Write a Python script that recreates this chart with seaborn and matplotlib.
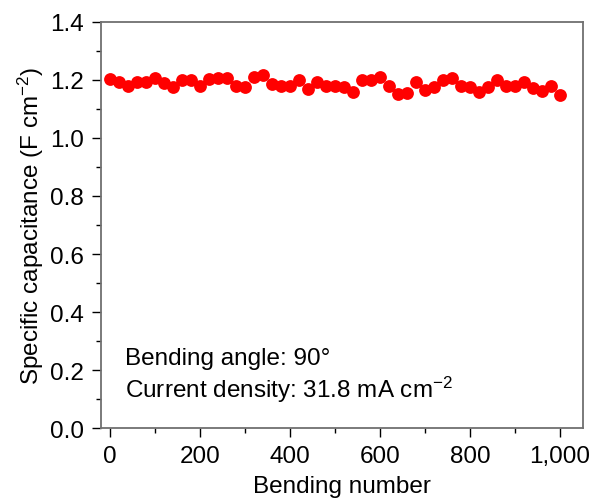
import matplotlib
matplotlib.use("Agg")
import matplotlib.pyplot as plt
import matplotlib.ticker as mticker
import seaborn as sns
import pandas as pd

bending_number = list(range(0, 1001, 20))
capacitance = [1.203, 1.194, 1.180, 1.194, 1.192, 1.206, 1.189, 1.177, 1.201, 1.201,
               1.178, 1.203, 1.206, 1.207, 1.180, 1.175, 1.211, 1.218, 1.186, 1.178,
               1.178, 1.200, 1.169, 1.194, 1.180, 1.178, 1.175, 1.157, 1.200, 1.201,
               1.209, 1.180, 1.152, 1.154, 1.192, 1.166, 1.177, 1.201, 1.207, 1.178,
               1.175, 1.157, 1.177, 1.201, 1.180, 1.180, 1.194, 1.172, 1.163, 1.180,
               1.149]
annotations = ["Bending angle: 90°", "Current density: 31.8 mA cm$^{-2}$"]

df = pd.DataFrame({"Bending number": bending_number, "Capacitance": capacitance})

sns.set_style("white", rc={"text.color": "black", "axes.labelcolor": "black",
                           "xtick.color": "black", "ytick.color": "black"})
plt.rcParams["font.family"] = ["Liberation Sans", "DejaVu Sans"]
plt.rcParams["mathtext.fontset"] = "custom"
plt.rcParams["mathtext.rm"] = "Liberation Sans"
plt.rcParams["mathtext.it"] = "Liberation Sans:italic"
plt.rcParams["mathtext.bf"] = "Liberation Sans:bold"

FS = 17.5

fig = plt.figure(figsize=(5.95, 5.02), dpi=100)
ax = fig.add_axes([0.1697, 0.1454, 0.8101, 0.8088])

sns.scatterplot(data=df, x="Bending number", y="Capacitance", ax=ax,
                color="#ff0000", s=85, linewidth=0, zorder=3)

ax.set_xlim(-20, 1051)
ax.set_ylim(0, 1.4)
ax.xaxis.set_major_locator(mticker.MultipleLocator(200))
ax.xaxis.set_minor_locator(mticker.MultipleLocator(100))
ax.yaxis.set_major_locator(mticker.MultipleLocator(0.2))
ax.yaxis.set_minor_locator(mticker.MultipleLocator(0.1))
ax.xaxis.set_major_formatter(mticker.FuncFormatter(lambda v, p: f"{int(round(v)):,}"))
ax.yaxis.set_major_formatter(mticker.FormatStrFormatter("%.1f"))

ax.tick_params(axis="both", which="major", direction="out", length=6.5, width=1.0,
               color="black", labelcolor="black", labelsize=FS,
               bottom=True, left=True, top=False, right=False)
ax.tick_params(axis="x", which="major", pad=5.5)
ax.tick_params(axis="y", which="major", pad=6.0)
ax.tick_params(axis="both", which="minor", direction="out", length=3.6, width=1.0,
               color="black", bottom=True, left=True, top=False, right=False)

for sp in ax.spines.values():
    sp.set_visible(True)
    sp.set_color("#707070")
    sp.set_linewidth(1.3)

ax.set_xlabel("Bending number", fontsize=FS, labelpad=6, color="black")
ax.set_ylabel("Specific capacitance (F cm$^{-2}$)", fontsize=FS, labelpad=2.5, color="black")

ax.text(0.05, 0.158, annotations[0], transform=ax.transAxes, fontsize=FS,
        ha="left", va="baseline", color="black")
ax.text(0.05, 0.076, annotations[1], transform=ax.transAxes, fontsize=FS,
        ha="left", va="baseline", color="black")

fig.savefig("out.png", dpi=100)
